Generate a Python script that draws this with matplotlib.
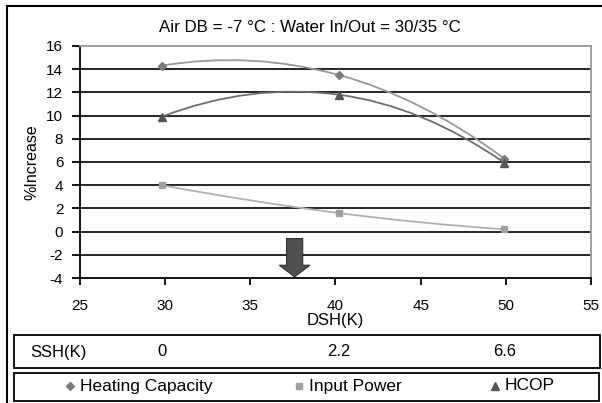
import numpy as np
import matplotlib.pyplot as plt
from matplotlib.path import Path
from matplotlib.patches import PathPatch, Rectangle, FancyArrow
from matplotlib.lines import Line2D
import matplotlib.transforms as mtransforms

plt.rcParams['font.family'] = ['Liberation Sans', 'DejaVu Sans']
plt.rcParams['axes.unicode_minus'] = False

dsh = [29.8, 40.2, 49.9]
ssh = ['0', '2.2', '6.6']
heating = [14.3, 13.5, 6.3]
power = [4.0, 1.6, 0.2]
hcop = [9.9, 11.8, 5.95]
arrow_x = 37.6

series = [
    ('Heating Capacity', heating, 'D', '#999999', '#7a7a7a', 4.5),
    ('Input Power', power, 's', '#b0b0b0', '#a0a0a0', 5),
    ('HCOP', hcop, '^', '#6e6e6e', '#555555', 6),
]


def smooth_path(xs, ys):
    # piecewise cubic bezier, tangents from neighbours (Excel-like smoothed line)
    xs = np.asarray(xs, float)
    ys = np.asarray(ys, float)
    n = len(xs)
    m = np.zeros(n)
    for i in range(1, n - 1):
        m[i] = (ys[i + 1] - ys[i - 1]) / (xs[i + 1] - xs[i - 1])
    m[0] = 2 * (ys[1] - ys[0]) / (xs[1] - xs[0]) - m[1]
    m[-1] = 2 * (ys[-1] - ys[-2]) / (xs[-1] - xs[-2]) - m[-2]
    verts = [(xs[0], ys[0])]
    codes = [Path.MOVETO]
    for i in range(n - 1):
        h = (xs[i + 1] - xs[i]) / 3
        verts += [(xs[i] + h, ys[i] + h * m[i]),
                  (xs[i + 1] - h, ys[i + 1] - h * m[i + 1]),
                  (xs[i + 1], ys[i + 1])]
        codes += [Path.CURVE4] * 3
    return Path(verts, codes)


fig = plt.figure(figsize=(6.02, 4.03), dpi=100)
W, H = 602, 403

# outer frame
fig.add_artist(Rectangle((7 / W, -0.01), 1.0, 1 - 6 / H + 0.01, transform=fig.transFigure,
                         fill=False, edgecolor='black', linewidth=1.5))

ax = fig.add_axes([80 / W, 1 - 278 / H, (591 - 80) / W, (278 - 46) / H])
ax.set_xlim(25, 55)
ax.set_ylim(-4, 16)
ax.set_xticks(np.arange(25, 56, 5))
ax.set_yticks(np.arange(-4, 17, 2))
for y in np.arange(-2, 16, 2):
    ax.axhline(y, color='black', linewidth=1.2, zorder=1)

for spine in ['top', 'right']:
    ax.spines[spine].set_color('#9a9a9a')
    ax.spines[spine].set_linewidth(1.3)
ax.spines['left'].set_linewidth(1.3)
ax.spines['bottom'].set_linewidth(1.3)
ax.tick_params(axis='y', direction='out', length=6, width=1.3, pad=6, labelsize=11)
ax.tick_params(axis='x', direction='out', length=5, width=1.3, pad=10, labelsize=11)

for name, vals, mk, lc, mc, ms in series:
    ax.add_patch(PathPatch(smooth_path(dsh, vals), facecolor='none', edgecolor=lc,
                           linewidth=1.3, zorder=3))
    ax.plot(dsh, vals, linestyle='none', marker=mk, color=mc, markersize=ms, zorder=4)

ax.add_patch(FancyArrow(arrow_x, -0.6, 0, -2.3, width=0.95, head_width=1.8,
                        head_length=1.0, length_includes_head=False,
                        facecolor='#505050', edgecolor='#303030', linewidth=0.8, zorder=5))

ax.set_xlabel('DSH(K)', fontsize=12, labelpad=0)
ax.set_ylabel('%Increase', fontsize=11.5, labelpad=5)

fig.text(310 / W, 1 - 28 / H, 'Air DB = -7 \u00b0C : Water In/Out = 30/35 \u00b0C',
         ha='center', va='center', fontsize=12.2)

# SSH row under the axis
fig.add_artist(Rectangle((14 / W, 1 - 368 / H), (600 - 14) / W, 33 / H,
                         transform=fig.transFigure, fill=False, edgecolor='black', linewidth=1.3))
fig.text(58 / W, 1 - 352 / H, 'SSH(K)', ha='center', va='center', fontsize=12)
trans = mtransforms.blended_transform_factory(ax.transData, fig.transFigure)
for x, s in zip(dsh, ssh):
    fig.text(x, 1 - 352 / H, s, ha='center', va='center', fontsize=12, transform=trans)

# legend box
fig.add_artist(Rectangle((14 / W, 1 - 401 / H), (599 - 14) / W, 28 / H,
                         transform=fig.transFigure, fill=False, edgecolor='black', linewidth=1.3))
leg_x = [70, 299, 495]
for lx, (name, vals, mk, lc, mc, ms) in zip(leg_x, series):
    fig.add_artist(Line2D([lx / W], [1 - 386 / H], marker=mk, color=mc, markersize=ms - 0.5,
                          linestyle='none', transform=fig.transFigure))
    fig.text((lx + 10) / W, 1 - 386 / H, name, ha='left', va='center', fontsize=12.5)

fig.savefig('out.png', dpi=100)
